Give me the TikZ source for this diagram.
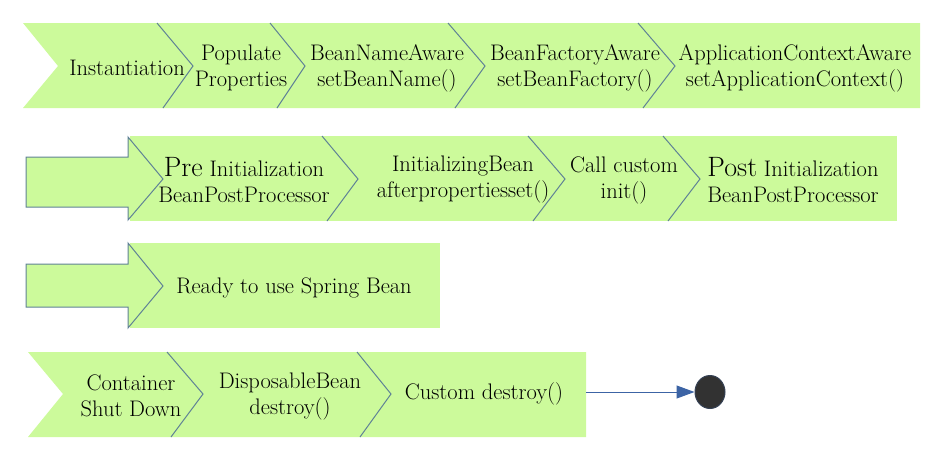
\documentclass[tikz,border=0pt]{standalone}
\usetikzlibrary{arrows.meta,shapes.geometric}
\definecolor{beangreen}{RGB}{204,250,155}
\definecolor{chevline}{RGB}{95,130,150}
\definecolor{flowblue}{RGB}{60,100,165}
\definecolor{stopgray}{RGB}{50,50,50}

\begin{document}
\begin{tikzpicture}[x=1pt,y=-1pt]
\tikzset{every node/.style={font=\fontsize{22.5}{26}\selectfont, align=center, inner sep=0pt},
  cut/.style={chevline, line width=1pt}}
\useasboundingbox (0,0) rectangle (938,472);

% Bands and block arrows
\fill[beangreen] (23,23) -- (920,23) -- (920,108) -- (23,108) -- (58,66) -- cycle;
\fill[beangreen] (130,136) rectangle (897,221);
\filldraw[fill=beangreen, draw=chevline, line width=1pt] (26,157) -- (128,157) -- (128,137) -- (163,179) -- (128,220) -- (128,207) -- (26,207) -- cycle;
\fill[beangreen] (130,243) rectangle (440,328);
\filldraw[fill=beangreen, draw=chevline, line width=1pt] (26,264) -- (128,264) -- (128,243) -- (163,286) -- (128,328) -- (128,307) -- (26,307) -- cycle;
\fill[beangreen] (28,352) -- (586,352) -- (586,437) -- (28,437) -- (63,394) -- cycle;

% Chevron cuts
\draw[cut] (157,23) -- (193,66) -- (163,108);
\draw[cut] (270,23) -- (305,66) -- (277,108);
\draw[cut] (448,23) -- (485,66) -- (455,108);
\draw[cut] (638,23) -- (675,66) -- (643,108);

\draw[cut] (322,136) -- (358,179) -- (327,221);
\draw[cut] (528,136) -- (565,179) -- (533,221);
\draw[cut] (663,136) -- (700,179) -- (668,221);

\draw[cut] (167,352) -- (203,394) -- (171,437);
\draw[cut] (357,352) -- (391,394) -- (360,437);

% Steps
\node (inst) at (127,68) {Instantiation};
\node (popu) at (241,68) {Populate\\Properties};
\node (bname) at (387,68) {BeanNameAware\\setBeanName()};
\node (bfact) at (575,68) {BeanFactoryAware\\setBeanFactory()};
\node (actx) at (795,68) {ApplicationContextAware\\setApplicationContext()};

\node (preinit) at (244,180) {{\fontsize{28}{26}\selectfont Pre} Initialization\\BeanPostProcessor};
\node (initbean) at (463,180) {InitializingBean\\afterpropertiesset()};
\node (cinit) at (624,180) {Call custom\\init()};
\node (postinit) at (793,180) {{\fontsize{28}{26}\selectfont Post} Initialization\\BeanPostProcessor};

\node (ready) at (294,288) {Ready to use Spring Bean};

\node (shut) at (131,396) {Container\\Shut Down};
\node (dispo) at (290,396) {DisposableBean\\destroy()};
\node (cdestroy) at (484,394) {Custom destroy()};

% End
\coordinate (r4end) at (586,392);
\node[ellipse, fill=stopgray, draw=stopgray!70!flowblue, line width=1pt, minimum width=30pt, minimum height=33pt] (stop) at (710,392) {};
\draw[flowblue, line width=1pt, -{Triangle[length=18pt,width=13pt]}] (r4end) -- (stop);

\end{tikzpicture}
\end{document}
